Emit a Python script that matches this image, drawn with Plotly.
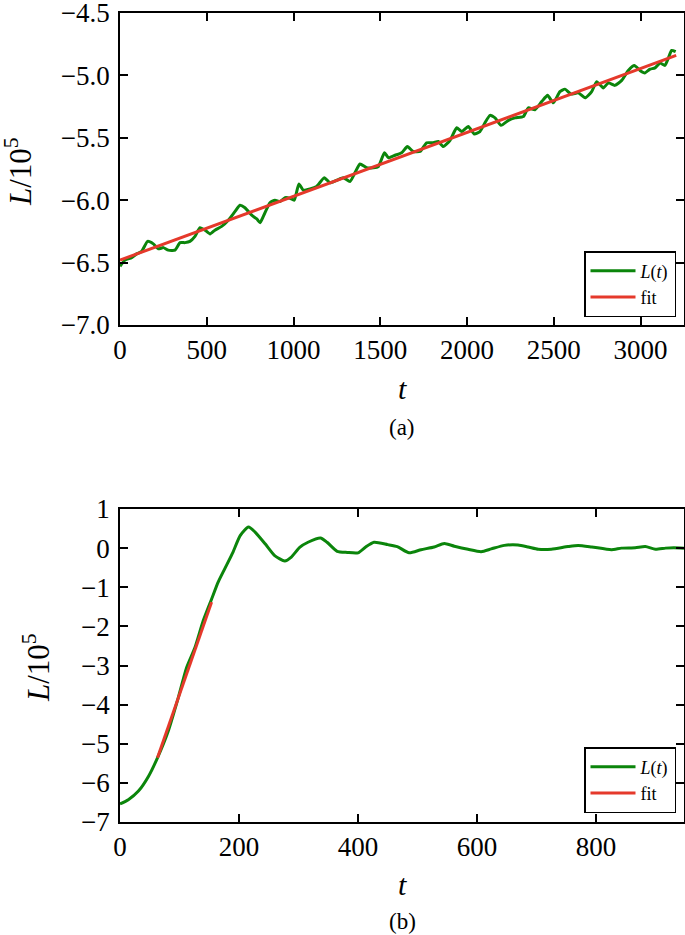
import plotly.graph_objects as go

# ---------------- data: panel (a) ----------------
t_a = [0, 29, 67, 96, 125, 159, 192, 221, 250, 278, 317, 346, 375, 403, 432, 461, 490, 519,
       547, 586, 624, 663, 691, 720, 759, 788, 807, 826, 864, 893, 922, 951, 980, 1004,
       1031, 1056, 1095, 1133, 1177, 1210, 1249, 1287, 1325, 1354, 1383, 1421, 1460, 1489,
       1524, 1547, 1585, 1623, 1656, 1690, 1729, 1767, 1805, 1834, 1863, 1902, 1940, 1969,
       2007, 2042, 2074, 2103, 2132, 2161, 2196, 2238, 2276, 2324, 2353, 2391, 2430, 2464,
       2497, 2535, 2564, 2599, 2641, 2680, 2718, 2747, 2785, 2814, 2852, 2891, 2929, 2964,
       2996, 3025, 3054, 3083, 3112, 3140, 3160, 3179, 3202]
L_a = [-6.53, -6.48, -6.46, -6.43, -6.41, -6.33, -6.35, -6.39, -6.38, -6.40, -6.40, -6.34,
       -6.34, -6.33, -6.29, -6.22, -6.24, -6.27, -6.24, -6.21, -6.16, -6.09, -6.04, -6.06,
       -6.12, -6.15, -6.18, -6.13, -6.02, -6.00, -6.01, -5.98, -5.985, -6.00, -5.87, -5.92,
       -5.91, -5.89, -5.82, -5.86, -5.84, -5.82, -5.85, -5.78, -5.71, -5.74, -5.74, -5.73,
       -5.62, -5.66, -5.64, -5.62, -5.57, -5.61, -5.61, -5.54, -5.54, -5.53, -5.57, -5.52,
       -5.42, -5.45, -5.41, -5.47, -5.45, -5.38, -5.32, -5.34, -5.40, -5.36, -5.34, -5.33,
       -5.26, -5.275, -5.21, -5.16, -5.22, -5.13, -5.11, -5.15, -5.14, -5.18, -5.13, -5.05,
       -5.10, -5.06, -5.08, -5.04, -4.96, -4.92, -4.96, -4.98, -4.95, -4.94, -4.90, -4.92,
       -4.86, -4.80, -4.81]
fit_t_a = [0, 3205]
fit_L_a = [-6.48, -4.84]

# ---------------- data: panel (b) ----------------
t_b = [0, 14, 31, 48, 63, 81, 98, 112, 126, 140, 154, 165, 176, 190, 202, 216, 227, 244,
       260, 277, 288, 302, 316, 337, 348, 365, 382, 400, 413, 427, 450, 466, 486, 506, 528,
       545, 562, 585, 607, 624, 646, 669, 686, 703, 725, 753, 770, 793, 826, 843, 866, 883,
       900, 917, 931, 948]
L_b = [-6.54, -6.43, -6.21, -5.83, -5.36, -4.68, -3.82, -3.05, -2.54, -1.85, -1.30, -0.87,
       -0.53, -0.10, 0.32, 0.54, 0.41, 0.11, -0.19, -0.33, -0.23, 0.02, 0.15, 0.26, 0.15,
       -0.08, -0.11, -0.12, 0.03, 0.15, 0.09, 0.04, -0.12, -0.04, 0.03, 0.12, 0.05, -0.03,
       -0.09, -0.02, 0.07, 0.08, 0.03, -0.03, -0.03, 0.04, 0.07, 0.03, -0.04, 0.0, 0.01,
       0.04, -0.03, 0.0, 0.01, 0.0]
fit_t_b = [63, 154]
fit_L_b = [-5.36, -1.38]

xticks_a = [0, 500, 1000, 1500, 2000, 2500, 3000]
yticks_a = [-7.0, -6.5, -6.0, -5.5, -5.0, -4.5]
xticks_b = [0, 200, 400, 600, 800]
yticks_b = [-7, -6, -5, -4, -3, -2, -1, 0, 1]

GREEN = "#0b850b"
RED = "#e5392b"
FONT = "Liberation Serif, DejaVu Serif, serif"

W, H = 685, 935
ML, MR, MT, MB = 120, 1, 13, 113
plot_h = H - MT - MB


def py(p):
    return (H - MB - p) / plot_h


def px(p):
    return (p - ML) / (W - ML - MR)


fig = go.Figure()
fig.add_trace(go.Scatter(x=t_a, y=L_a, mode="lines", name="<i>L</i>(<i>t</i>)",
                         line=dict(color=GREEN, width=3, shape="spline", smoothing=0.5),
                         xaxis="x", yaxis="y", legend="legend"))
fig.add_trace(go.Scatter(x=fit_t_a, y=fit_L_a, mode="lines", name="fit",
                         line=dict(color=RED, width=3), xaxis="x", yaxis="y", legend="legend"))
fig.add_trace(go.Scatter(x=t_b, y=L_b, mode="lines", name="<i>L</i>(<i>t</i>)",
                         line=dict(color=GREEN, width=3, shape="spline", smoothing=0.6),
                         xaxis="x2", yaxis="y2", legend="legend2"))
fig.add_trace(go.Scatter(x=fit_t_b, y=fit_L_b, mode="lines", name="fit",
                         line=dict(color=RED, width=3), xaxis="x2", yaxis="y2", legend="legend2"))

axis_common = dict(showline=True, linecolor="black", linewidth=1.5, mirror="allticks",
                   ticks="inside", ticklen=8, tickwidth=1.5, tickcolor="black",
                   showgrid=False, zeroline=False, ticklabeloverflow="allow",
                   tickfont=dict(family=FONT, size=27, color="black"))

top_dom = [py(325), 1.0]
bot_dom = [0.0, py(509)]

legend_common = dict(xanchor="right", yanchor="bottom",
                     bordercolor="black", borderwidth=1.5, bgcolor="white",
                     font=dict(family=FONT, size=18, color="black"), tracegroupgap=0,
                     itemwidth=45)

fig.update_layout(
    width=W, height=H,
    margin=dict(l=ML, r=MR, t=MT, b=MB, autoexpand=False),
    paper_bgcolor="white", plot_bgcolor="white",
    font=dict(family=FONT, color="black"),
    xaxis=dict(axis_common, domain=[0, 1], range=[0, 3250], tickvals=xticks_a,
               anchor="y", ticklabelstandoff=0),
    yaxis=dict(axis_common, domain=top_dom, range=[-7.0, -4.5], tickvals=yticks_a,
               tickformat=".1f", anchor="x", ticklabelstandoff=3),
    xaxis2=dict(axis_common, domain=[0, 1], range=[0, 948], tickvals=xticks_b,
                anchor="y2", ticklabelstandoff=0),
    yaxis2=dict(axis_common, domain=bot_dom, range=[-7, 1], tickvals=yticks_b,
                anchor="x2", ticklabelstandoff=3),
    legend=dict(legend_common, x=px(676), y=py(317)),
    legend2=dict(legend_common, x=px(676), y=py(813)),
    showlegend=True,
)

ann = [
    dict(text="<i>L</i>/10<sup>5</sup>", x=px(19), y=py(172), textangle=-90, size=31),
    dict(text="<i>L</i>/10<sup>5</sup>", x=px(36), y=py(668), textangle=-90, size=31),
    dict(text="<i>t</i>", x=px(402), y=py(389), textangle=0, size=30),
    dict(text="<i>t</i>", x=px(402), y=py(885), textangle=0, size=30),
    dict(text="(a)", x=px(402), y=py(427), textangle=0, size=23),
    dict(text="(b)", x=px(402), y=py(921), textangle=0, size=23),
]
for a in ann:
    fig.add_annotation(text=a["text"], x=a["x"], y=a["y"], xref="paper", yref="paper",
                       xanchor="center", yanchor="middle", showarrow=False,
                       textangle=a["textangle"],
                       font=dict(family=FONT, size=a["size"], color="black"))

fig.write_html("out.html", config={"displayModeBar": False},
               post_script="document.body.style.margin='0';document.body.style.padding='0';")
